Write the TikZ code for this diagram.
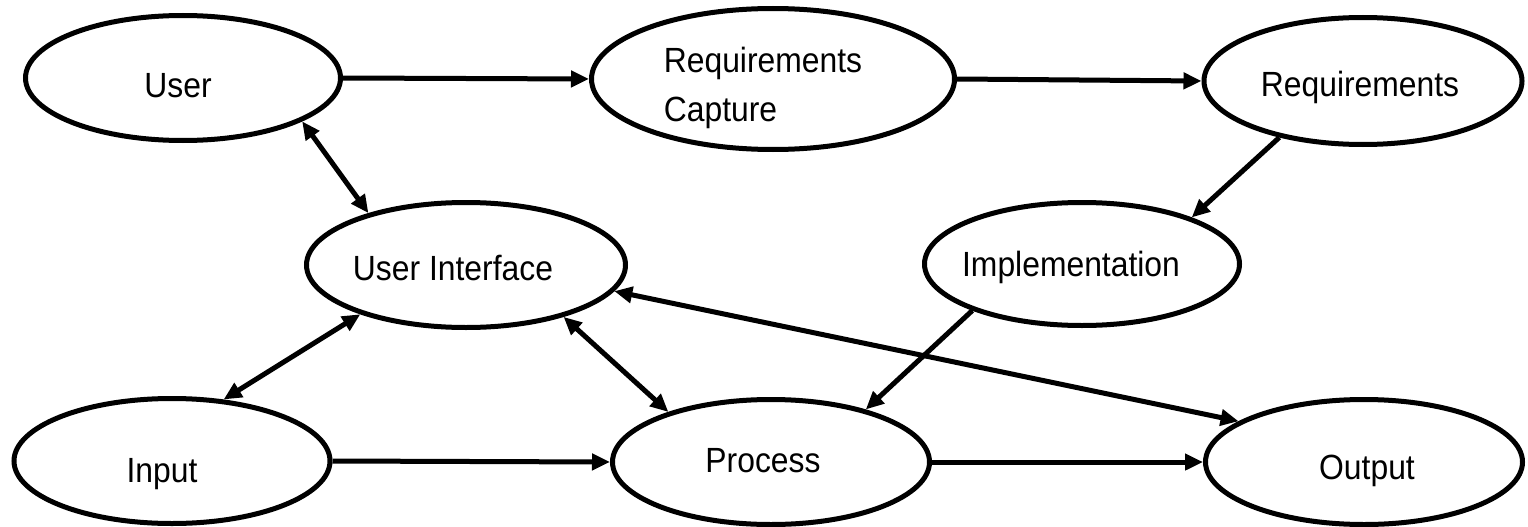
\documentclass[tikz,border=0pt]{standalone}
\usepackage{fontspec}
\setmainfont{Liberation Sans}[FakeStretch=0.91]
\usetikzlibrary{shapes.geometric,arrows.meta}
\newcommand\ovtext[3]{\raisebox{#2}[0pt][0pt]{\makebox[0pt]{\hspace*{#1}\hspace*{#1}#3}}}
\tikzset{
  oval/.style={ellipse, draw=black, line width=5pt, fill=white, inner sep=0pt,
    font=\fontsize{35}{49}\selectfont},
  conn/.style={line width=5pt, -{Triangle[length=18pt,width=16pt]}},
  conn2/.style={line width=5pt, {Triangle[length=18pt,width=16pt]}-{Triangle[length=18pt,width=16pt]}}
}
\begin{document}
\begin{tikzpicture}[x=1pt,y=1pt]
\useasboundingbox (0,0) rectangle (1528,-527);
\node[oval, minimum width=315pt, minimum height=125pt] (user) at (183,-78) {\ovtext{-5pt}{-19pt}{User}};
\node[oval, minimum width=363pt, minimum height=141pt] (rc) at (773,-79) {\ovtext{-10pt}{6pt}{\begin{tabular}[t]{@{}l@{}}Requirements\\Capture\end{tabular}}};
\node[oval, minimum width=318pt, minimum height=127pt] (req) at (1363,-81) {\ovtext{-3pt}{-16pt}{Requirements}};
\node[oval, minimum width=319pt, minimum height=125pt] (ui) at (466,-265) {\ovtext{-13pt}{-15.5pt}{User Interface}};
\node[oval, minimum width=315pt, minimum height=123pt] (impl) at (1082,-264) {\ovtext{-11pt}{-12.5pt}{Implementation}};
\node[oval, minimum width=316pt, minimum height=125pt] (input) at (172,-461) {\ovtext{-10pt}{-21.5pt}{Input}};
\node[oval, minimum width=317pt, minimum height=125pt] (proc) at (771,-462) {\ovtext{-8pt}{-10.5pt}{Process}};
\node[oval, minimum width=317pt, minimum height=125pt] (out) at (1364,-462) {\ovtext{3pt}{-17.5pt}{Output}};

\draw[conn] (user.east) -- (rc.west);
\draw[conn] (rc.east) -- (req.west);
\draw[conn] (req.214) -- (impl.23);
\draw[conn2] (user.-20) -- (ui.152);
\draw[conn2] (input.50) -- (ui.205);
\draw[conn2] (ui.-28) -- (proc.154);
\draw[conn2] (ui.-10.6) -- (out.162);
\draw[conn] (impl.203) -- (proc.29.5);
\draw[conn] (input.east) -- (proc.west);
\draw[conn] (proc.east) -- (out.west);
\end{tikzpicture}
\end{document}
